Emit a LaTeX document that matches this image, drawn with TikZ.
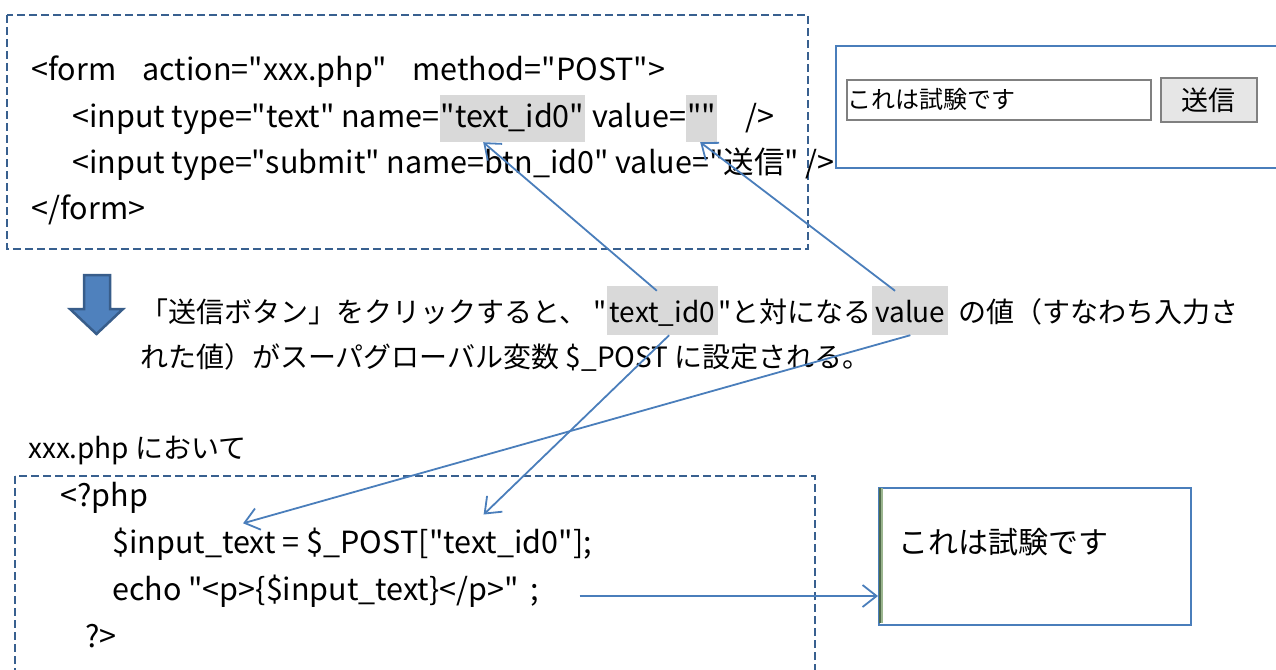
\documentclass[tikz,border=0pt]{standalone}
\usepackage{fontspec}
\setmainfont{Noto Sans CJK JP}[Ligatures=TeXOff]
\usetikzlibrary{arrows.meta,calc}
\definecolor{dashblue}{HTML}{38608F}
\definecolor{lineblue}{HTML}{4A7EBB}
\definecolor{hlgray}{HTML}{D9D9D9}
\definecolor{arrowfill}{HTML}{4F81BD}
\definecolor{arrowedge}{HTML}{385D8A}
\definecolor{btngray}{HTML}{E6E6E6}
\definecolor{edgegreen}{HTML}{4F6B4A}
\definecolor{edgegreenlt}{HTML}{9BB58F}
\begin{document}
\begin{tikzpicture}[x=1pt,y=-1pt,
  codetxt/.style={anchor=base west, inner sep=0pt, font=\fontsize{30.5pt}{36pt}\selectfont},
  midtxt/.style={anchor=base west, inner sep=0pt, font=\fontsize{28pt}{34pt}\selectfont},
  hlcode/.style={fill=hlgray, text height=32pt, text depth=15pt, inner xsep=1pt},
  hlmid/.style={fill=hlgray, text height=36pt, text depth=13pt, inner xsep=3pt},
  dashbox/.style={draw=dashblue, line width=2.6pt, dash pattern=on 8pt off 4pt},
  conn/.style={draw=lineblue, line width=1.8pt, -{Straight Barb[length=14pt,width=22pt]}},
  blockarrow/.style={fill=arrowfill, draw=arrowedge, line width=2.5pt, line join=miter}]
\path[use as bounding box] (0,0) rectangle (1276,669);
\begin{scope}
\clip (0,0) rectangle (1276,669);

% ---------- top code box ----------
\draw[dashbox] (7,15) rectangle (808,249);
\node[codetxt] (t1) at (31,81) {<form\hspace{26pt}action="xxx.php"\hspace{26pt}method="POST">};
\node[codetxt] (t2a) at (72,127) {<input type="text" name=};
\node[codetxt,hlcode] (t2b) at (t2a.base east) {"text\_id0"};
\node[codetxt] (t2c) at (t2b.base east) {\ value=};
\node[codetxt,hlcode] (t2d) at (t2c.base east) {""};
\node[codetxt] (t2e) at (t2d.base east) {\hspace{28pt}/>};
\node[codetxt] (t3) at (72,173) {<input type="submit" name=btn\_id0" value="送信" />};
\node[codetxt] (t4) at (31,219) {</form>};

% ---------- form widget ----------
\draw[draw=lineblue, line width=1.8pt] (836,46) rectangle (1300,168);
\node[draw=gray, fill=white, line width=1.8pt, minimum width=304pt, minimum height=40pt,
      anchor=north west, inner sep=0pt] (inbox) at (846,79) {};
\node[anchor=base west, inner sep=0pt, font=\fontsize{24pt}{28pt}\selectfont] (intext) at (847,108) {これは試験です};
\node[draw=gray, fill=btngray, line width=1.8pt, minimum width=96pt, minimum height=44pt,
      anchor=north west, inner sep=0pt, font=\fontsize{27pt}{30pt}\selectfont] (btn) at (1160,77) {送信};

% ---------- block arrow ----------
\draw[blockarrow] (84,275) -- (110,275) -- (110,309) -- (123,309) -- (96.5,334) -- (70,309) -- (84,309) -- cycle;

% ---------- explanation text ----------
\node[midtxt] (m1a) at (140,322) {「送信ボタン」をクリックすると、\hspace{6pt}"};
\node[midtxt,hlmid] (m1b) at (m1a.base east) {text\_id0};
\node[midtxt] (m1c) at (m1b.base east) {"と対になる\hspace{14pt}};
\node[midtxt,hlmid] (m1d) at (m1c.base east) {value};
\node[midtxt] (m1e) at (m1d.base east) {\hspace{10pt}の値（すなわち入力さ};
\node[midtxt] (m2) at (140,367) {れた値）がスーパグローバル変数 \$\_POST に設定される。};

\node[midtxt] (xphp) at (28,458) {xxx.php において};

% ---------- bottom code box ----------
\draw[dashbox] (15,476) rectangle (815,720);
\node[codetxt] (b1) at (60,506) {<?php};
\node[codetxt] (b2a) at (112,553) {\$input\_text};
\node[codetxt] (b2b) at (b2a.base east) {\ = \$\_POST[};
\node[codetxt] (b2c) at (b2b.base east) {"text\_id0"};
\node[codetxt] (b2d) at (b2c.base east) {];};
\node[codetxt] (b3) at (112,600) {echo "<p>\{\$input\_text\}</p>"\hspace{12pt};};
\node[codetxt] (b4) at (85,647) {?>};

% ---------- output box ----------
\node[draw=lineblue, line width=1.8pt, minimum width=312pt, minimum height=137pt,
      anchor=north west, inner sep=0pt] (out) at (878,487) {};
\draw[edgegreen, line width=2pt] (880,488) -- (880,623);
\draw[edgegreenlt, line width=1.2pt] (882,488) -- (882,623);
\node[anchor=base west, inner sep=0pt, font=\fontsize{30pt}{34pt}\selectfont] (outtext) at (898,553) {これは試験です};

% ---------- connectors ----------
\draw[conn] ($(m1b.north west)!0.45!(m1b.north east)+(0,5)$) -- ($(t2b.south west)!0.3!(t2b.south east)$);
\draw[conn] ($(m1d.north west)!0.3!(m1d.north east)+(0,5)$) -- ($(t2d.south west)!0.45!(t2d.south east)$);
\draw[conn] ($(m1b.south west)!0.56!(m1b.south east)$) -- ($(b2c.north west)!0.38!(b2c.north east)+(0,-14)$);
\draw[conn] ($(m1d.south west)!0.5!(m1d.south east)$) -- ($(b2a.north west)!0.8!(b2a.north east)+(0,-4)$);
\coordinate (echoend) at ($(b3.base east)+(40,-4)$);
\draw[conn] (echoend) -- (echoend -| out.west);
\end{scope}
\end{tikzpicture}
\end{document}
